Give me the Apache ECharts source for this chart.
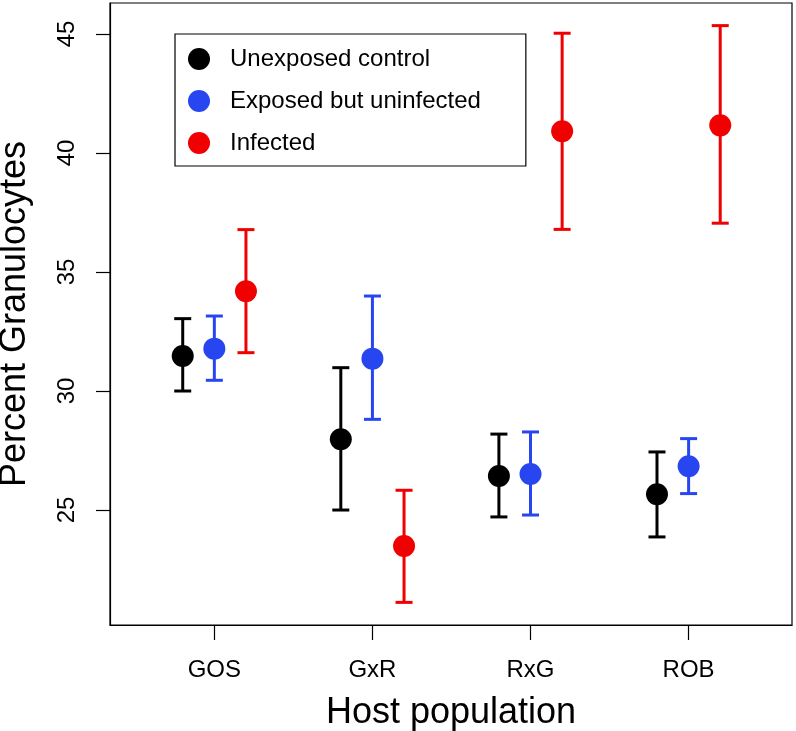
<!DOCTYPE html>
<html>
<head>
<meta charset="utf-8">
<script src="https://cdn.jsdelivr.net/npm/echarts@6/dist/echarts.min.js"></script>
<style>
  html, body { margin: 0; padding: 0; background: #fff; }
  #chart { width: 796px; height: 731px; }
</style>
</head>
<body>
<div id="chart"></div>
<script>
// ---- Data ----
const categories = ['GOS', 'GxR', 'RxG', 'ROB'];
const yTicks = [25, 30, 35, 40, 45];

const controlMean = [31.47, 27.97, 26.43, 25.66];
const controlLow  = [30.00, 25.00, 24.71, 23.87];
const controlHigh = [33.04, 30.98, 28.19, 27.44];

const exposedMean = [31.78, 31.36, 26.51, 26.84];
const exposedLow  = [30.45, 28.81, 24.79, 25.69];
const exposedHigh = [33.15, 33.99, 28.28, 28.00];

const infectedMean = [34.19, 23.49, 40.91, 41.16];
const infectedLow  = [31.61, 21.12, 36.79, 37.05];
const infectedHigh = [36.78, 25.83, 45.03, 45.35];

const seriesNames = ['Unexposed control', 'Exposed but uninfected', 'Infected'];

// ---- Layout / style ----
const FONT = "'Liberation Sans', Arial, Helvetica, sans-serif";
const colors = ['#000000', '#2846f0', '#f00000'];
const offsets = [-0.2, 0, 0.2];

function buildData(mean, low, high, off) {
  return categories.map((c, i) => [i + 1 + off, mean[i], low[i], high[i]]);
}

function renderErr(params, api) {
  const x = api.value(0), y = api.value(1), lo = api.value(2), hi = api.value(3);
  const c = api.coord([x, y]);
  const pl = api.coord([x, lo]);
  const ph = api.coord([x, hi]);
  const color = api.visual('color');
  const half = 8.5;
  const ls = { stroke: color, lineWidth: 3 };
  return {
    type: 'group',
    children: [
      { type: 'line', shape: { x1: c[0], y1: pl[1], x2: c[0], y2: ph[1] }, style: ls },
      { type: 'line', shape: { x1: c[0] - half, y1: ph[1], x2: c[0] + half, y2: ph[1] }, style: ls },
      { type: 'line', shape: { x1: c[0] - half, y1: pl[1], x2: c[0] + half, y2: pl[1] }, style: ls },
      { type: 'circle', shape: { cx: c[0], cy: c[1], r: 11 }, style: { fill: color } }
    ]
  };
}

const groups = [
  [controlMean, controlLow, controlHigh],
  [exposedMean, exposedLow, exposedHigh],
  [infectedMean, infectedLow, infectedHigh]
];

const series = groups.map((g, k) => ({
  name: seriesNames[k],
  type: 'custom',
  renderItem: renderErr,
  itemStyle: { color: colors[k] },
  encode: { x: 0, y: [1, 2, 3] },
  data: buildData(g[0], g[1], g[2], offsets[k]),
  z: 3
}));

const chart = echarts.init(document.getElementById('chart'), null, { renderer: 'canvas' });
chart.setOption({
  backgroundColor: '#ffffff',
  animation: false,
  grid: {
    left: 110, right: 4, top: 3, bottom: 106,
    outerBoundsMode: 'none',
    containLabel: false,
    show: true, borderColor: '#000', borderWidth: 1.2, backgroundColor: 'transparent'
  },
  legend: {
    left: 175, top: 34,
    orient: 'vertical',
    data: seriesNames.map(n => ({ name: n, icon: 'circle' })),
    itemWidth: 22, itemHeight: 22, itemGap: 18,
    padding: [13, 45, 11, 13],
    borderColor: '#000', borderWidth: 1.2, borderRadius: 0,
    backgroundColor: '#fff',
    selectedMode: false,
    textStyle: { fontFamily: FONT, fontSize: 24, color: '#000', lineHeight: 24, padding: [0, 0, 0, 15] }
  },
  xAxis: {
    type: 'value',
    min: 0.34, max: 4.654,
    name: 'Host population',
    nameLocation: 'middle',
    nameGap: 70,
    nameTextStyle: { fontFamily: FONT, fontSize: 36, color: '#000' },
    axisLine: { show: true, onZero: false, lineStyle: { color: '#000', width: 1.2 } },
    axisTick: { show: true, customValues: [1, 2, 3, 4], length: 15, lineStyle: { color: '#000', width: 1.2 } },
    axisLabel: {
      customValues: [1, 2, 3, 4],
      formatter: v => categories[Math.round(v) - 1] || '',
      fontFamily: FONT, fontSize: 24, color: '#000', margin: 33
    },
    splitLine: { show: false }
  },
  yAxis: {
    type: 'value',
    min: 20.17, max: 46.3,
    name: 'Percent Granulocytes',
    nameLocation: 'middle',
    nameGap: 77,
    nameTextStyle: { fontFamily: FONT, fontSize: 36, color: '#000' },
    axisLine: { show: true, onZero: false, lineStyle: { color: '#000', width: 1.2 } },
    axisTick: { show: true, customValues: yTicks, length: 14, lineStyle: { color: '#000', width: 1.2 } },
    axisLabel: {
      customValues: yTicks,
      rotate: 90,
      fontFamily: FONT, fontSize: 24, color: '#000', margin: 31
    },
    splitLine: { show: false }
  },
  series: series
});
</script>
</body>
</html>
